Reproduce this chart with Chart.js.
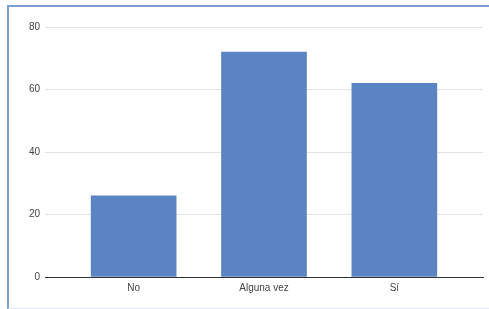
<!DOCTYPE html>
<html>
<head>
<meta charset="utf-8">
<script src="https://cdn.jsdelivr.net/npm/chart.js@4/dist/chart.umd.min.js"></script>
<style>
  body { margin: 0; background: #fff; }
  #wrap { position: relative; width: 489px; height: 309px; overflow: hidden; }
  #frame {
    position: absolute; left: 7px; top: 5px; width: 500px; height: 301px;
    border-top: 2px solid #7f9ed6; border-left: 2px solid #7f9ed6;
    border-bottom: 1px solid #dde6f5;
  }
  canvas { position: absolute; left: 0; top: 0; }
</style>
</head>
<body>
<div id="wrap">
  <div id="frame"></div>
  <canvas id="chart" width="489" height="309"></canvas>
</div>
<script>
// data
const categories = ['No', 'Alguna vez', 'Sí'];
const counts = [26, 72, 62];
const yTicks = [0, 20, 40, 60, 80];

const points = categories.map((c, i) => ({ x: i, y: counts[i] }));
const font = { family: '"Liberation Sans", Arial, sans-serif', size: 10 };

new Chart(document.getElementById('chart').getContext('2d'), {
  type: 'bar',
  data: {
    datasets: [{
      data: points,
      backgroundColor: '#5b84c4',
      borderWidth: 0,
      barThickness: 85
    }]
  },
  options: {
    responsive: false,
    animation: false,
    layout: { padding: { left: 0, top: 27, right: 6, bottom: 0 } },
    plugins: { legend: { display: false }, tooltip: { enabled: false } },
    scales: {
      x: {
        type: 'linear',
        offset: false,
        min: -0.68,
        max: 2.68,
        grid: { display: false, drawTicks: false },
        border: { display: true, color: '#333', width: 1 },
        afterBuildTicks: s => { s.ticks = categories.map((c, i) => ({ value: i })); },
        afterFit: s => { s.height = 32; },
        ticks: {
          font: font,
          color: '#444',
          padding: 5,
          maxRotation: 0,
          callback: v => categories[v]
        }
      },
      y: {
        min: yTicks[0],
        max: yTicks[yTicks.length - 1],
        afterBuildTicks: s => { s.ticks = yTicks.map(v => ({ value: v })); },
        afterFit: s => { s.width = 45; },
        border: { display: false },
        grid: {
          drawTicks: false,
          color: ctx => ctx.tick && ctx.tick.value === 0 ? '#333' : '#e3e3e3'
        },
        ticks: { font: font, color: '#444', padding: 5 }
      }
    }
  }
});
</script>
</body>
</html>
